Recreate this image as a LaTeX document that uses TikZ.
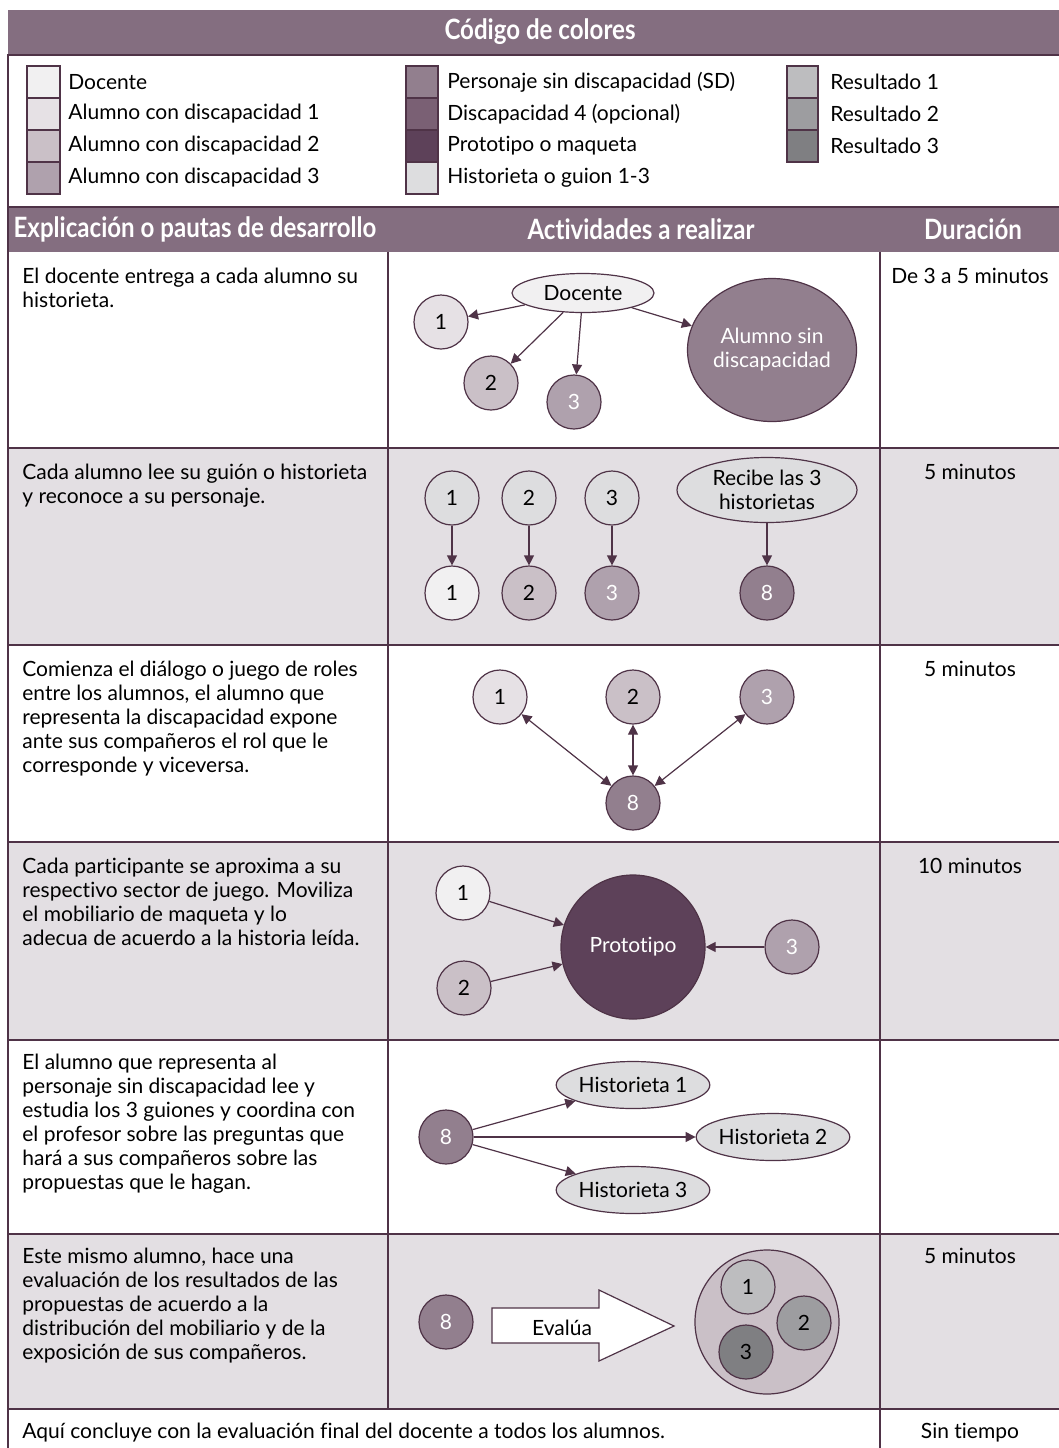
\documentclass[tikz,border=0pt]{standalone}
\usepackage{fontspec}
\setmainfont{Lato}[Ligatures={NoCommon,NoRequired,NoContextual}]
\usetikzlibrary{arrows.meta,shapes.geometric}

\definecolor{linea}{HTML}{4F3347}
\definecolor{cabecera}{HTML}{846E80}
\definecolor{fila}{HTML}{E3DFE3}
\definecolor{docente}{HTML}{F1F0F1}
\definecolor{alumnoA}{HTML}{E6E1E5}
\definecolor{alumnoB}{HTML}{CAC0C7}
\definecolor{alumnoC}{HTML}{AFA1AD}
\definecolor{sindisc}{HTML}{927F8E}
\definecolor{disccuatro}{HTML}{7A6074}
\definecolor{prototipo}{HTML}{5D4159}
\definecolor{guion}{HTML}{DDDDDF}
\definecolor{resA}{HTML}{BDBDBF}
\definecolor{resB}{HTML}{9D9DA0}
\definecolor{resC}{HTML}{7F7F82}

\begin{document}
\begin{tikzpicture}[x=0.5pt,y=-0.5pt]
\tikzset{rule/.style={draw=linea,line width=0.7pt},
  titulo/.style={text=white,font=\fontsize{14}{16}\selectfont\bfseries},
  cuerpo/.style={inner sep=0pt,font=\fontsize{10.5}{12}\selectfont},
  explica/.style={cuerpo,anchor=north west,align=left},
  dura/.style={cuerpo,anchor=north,align=center},
  caja/.style={draw=linea,line width=0.6pt},
  persona/.style={circle,draw=linea,line width=0.6pt,minimum size=27pt,inner sep=0pt,font=\fontsize{10.5}{12}\selectfont},
  globo/.style={ellipse,draw=linea,line width=0.6pt,inner sep=0pt,align=center,font=\fontsize{10.5}{12}\selectfont},
  flecha/.style={draw=linea,line width=0.6pt,-{Triangle[length=5pt,width=5pt]}},
  doble/.style={draw=linea,line width=0.6pt,{Triangle[length=5pt,width=5pt]}-{Triangle[length=5pt,width=5pt]}}};

\useasboundingbox (0,0) rectangle (1059,1448);

% bandas de titulo y cabecera
\fill[cabecera] (8,10) rectangle (1059,55);
\fill[cabecera] (8,207) rectangle (1059,252);
\draw[rule] (1059,55) -- (8,55) -- (8,207) -- (1059,207);
\node[titulo] (cod) at (540,32) {\scalebox{0.86}[1]{Código de colores}};
\node[titulo] (hexp) at (195,229) {\scalebox{0.86}[1]{Explicación o pautas de desarrollo}};
\node[titulo] (hact) at (641,229) {\scalebox{0.86}[1]{Actividades a realizar}};
\node[titulo] (hdur) at (973,229) {\scalebox{0.86}[1]{Duración}};

% leyenda de colores
\foreach \c/\t [count=\i] in {docente/Docente,alumnoA/Alumno con discapacidad 1,alumnoB/Alumno con discapacidad 2,alumnoC/Alumno con discapacidad 3}
  {\draw[caja,fill=\c] (27,34+32*\i) rectangle (60,66+32*\i);
   \node[cuerpo,anchor=west] (ley1_\i) at (68,50+32*\i) {\t};}
\foreach \c/\t [count=\i] in {sindisc/Personaje sin discapacidad (SD),disccuatro/Discapacidad 4 (opcional),prototipo/Prototipo o maqueta,guion/Historieta o guion 1-3}
  {\draw[caja,fill=\c] (406,34+32*\i) rectangle (438,66+32*\i);
   \node[cuerpo,anchor=west] (ley2_\i) at (447,50+32*\i) {\t};}
\foreach \c/\t [count=\i] in {resA/Resultado 1,resB/Resultado 2,resC/Resultado 3}
  {\draw[caja,fill=\c] (787,34+32*\i) rectangle (818,66+32*\i);
   \node[cuerpo,anchor=west] (ley3_\i) at (830,50+32*\i) {\t};}

% filas de la tabla
\foreach \ya/\yb in {448/645,842/1040,1234/1409}
  \fill[fila] (8,\ya) rectangle (1059,\yb);
\foreach \y in {448,645,842,1040,1234,1409}
  \draw[rule] (8,\y) -- (1059,\y);
\draw[rule] (8,207) -- (8,1448);
\draw[rule] (388,252) -- (388,1409);
\draw[rule] (880,252) -- (880,1448);

\node[explica] (t1) at (22,268) {El docente entrega a cada alumno su\\historieta.};
\node[explica] (t2) at (22,464) {Cada alumno lee su guión o historieta\\y reconoce a su personaje.};
\node[explica] (t3) at (22,661) {Comienza el diálogo o juego de roles\\entre los alumnos, el alumno que\\representa la discapacidad expone\\ante sus compañeros el rol que le\\corresponde y viceversa.};
\node[explica] (t4) at (22,858) {Cada participante se aproxima a su\\respectivo sector de juego. Moviliza\\el mobiliario de maqueta y lo\\adecua de acuerdo a la historia leída.};
\node[explica] (t5) at (22,1054) {El alumno que representa al\\personaje sin discapacidad lee y\\estudia los 3 guiones y coordina con\\el profesor sobre las preguntas que\\hará a sus compañeros sobre las\\propuestas que le hagan.};
\node[explica] (t6) at (22,1248) {Este mismo alumno, hace una\\evaluación de los resultados de las\\propuestas de acuerdo a la\\distribución del mobiliario y de la\\exposición de sus compañeros.};
\node[explica] (t7) at (22,1423) {Aquí concluye con la evaluación final del docente a todos los alumnos.};

\node[dura] (d1) at (970,268) {De 3 a 5 minutos};
\node[dura] (d2) at (970,464) {5 minutos};
\node[dura] (d3) at (970,661) {5 minutos};
\node[dura] (d4) at (970,858) {10 minutos};
\node[dura] (d6) at (970,1248) {5 minutos};
\node[dura] (d7) at (970,1423) {Sin tiempo};

% fila 1
\node[globo,fill=docente,minimum width=71pt,minimum height=19.5pt] (doc_1) at (583,293) {Docente};
\node[persona,fill=alumnoA] (a1_1) at (441,322) {1};
\node[persona,fill=alumnoB] (a2_1) at (491,383) {2};
\node[persona,fill=alumnoC,text=white] (a3_1) at (574,402) {3};
\node[globo,fill=sindisc,text=white,minimum width=84.5pt,minimum height=71.5pt] (sd_1) at (772,350) {Alumno sin\\discapacidad};
\draw[flecha] (doc_1) -- (a1_1);
\draw[flecha] (doc_1) -- (a2_1);
\draw[flecha] (doc_1) -- (a3_1);
\draw[flecha] (doc_1) -- (sd_1);

% fila 2
\node[persona,fill=guion] (h1_2) at (452,498) {1};
\node[persona,fill=guion] (h2_2) at (529,498) {2};
\node[persona,fill=guion] (h3_2) at (612,498) {3};
\node[globo,fill=guion,minimum width=90pt,minimum height=32.5pt] (rec_2) at (767,490) {Recibe las 3\\historietas};
\node[persona,fill=docente] (a1_2) at (452,593) {1};
\node[persona,fill=alumnoB] (a2_2) at (529,593) {2};
\node[persona,fill=alumnoC,text=white] (a3_2) at (612,593) {3};
\node[persona,fill=sindisc,text=white] (sd_2) at (767,593) {8};
\draw[flecha] (h1_2) -- (a1_2);
\draw[flecha] (h2_2) -- (a2_2);
\draw[flecha] (h3_2) -- (a3_2);
\draw[flecha] (rec_2) -- (sd_2);

% fila 3
\node[persona,fill=alumnoA] (a1_3) at (500,697) {1};
\node[persona,fill=alumnoB] (a2_3) at (633,697) {2};
\node[persona,fill=alumnoC,text=white] (a3_3) at (767,697) {3};
\node[persona,fill=sindisc,text=white] (sd_3) at (633,803) {8};
\draw[doble] (sd_3) -- (a1_3);
\draw[doble] (sd_3) -- (a2_3);
\draw[doble] (sd_3) -- (a3_3);

% fila 4
\node[persona,fill=docente] (a1_4) at (463,893) {1};
\node[persona,fill=alumnoB] (a2_4) at (464,988) {2};
\node[persona,fill=alumnoC,text=white] (a3_4) at (792,947) {3};
\node[persona,fill=prototipo,text=white,minimum size=72pt] (pro_4) at (633,947) {Prototipo};
\draw[flecha] (a1_4) -- (pro_4);
\draw[flecha] (a2_4) -- (pro_4);
\draw[flecha] (a3_4) -- (pro_4);

% fila 5
\node[persona,fill=sindisc,text=white] (sd_5) at (446,1137) {8};
\node[globo,fill=guion,minimum width=71pt,minimum height=23.5pt] (h1_5) at (633,1085) {Historieta 1};
\node[globo,fill=guion,minimum width=71pt,minimum height=23.5pt] (h2_5) at (773,1137) {Historieta 2};
\node[globo,fill=guion,minimum width=71pt,minimum height=23.5pt] (h3_5) at (633,1190) {Historieta 3};
\draw[flecha] (sd_5) -- (h1_5);
\draw[flecha] (sd_5) -- (h2_5);
\draw[flecha] (sd_5) -- (h3_5);

% fila 6
\node[persona,fill=sindisc,text=white] (sd_6) at (446,1322) {8};
\draw[caja,fill=white] (492,1308) -- (599,1308) -- (599,1290) -- (674,1326) -- (599,1361) -- (599,1343) -- (492,1343) -- cycle;
\node[cuerpo] (eva_6) at (562,1328) {Evalúa};
\node[persona,fill=alumnoB,minimum size=72pt] (res_6) at (767,1322) {};
\node[persona,fill=resA] (r1_6) at (748,1287) {1};
\node[persona,fill=resB] (r2_6) at (804,1323) {2};
\node[persona,fill=resC] (r3_6) at (746,1352) {3};
\end{tikzpicture}
\end{document}
